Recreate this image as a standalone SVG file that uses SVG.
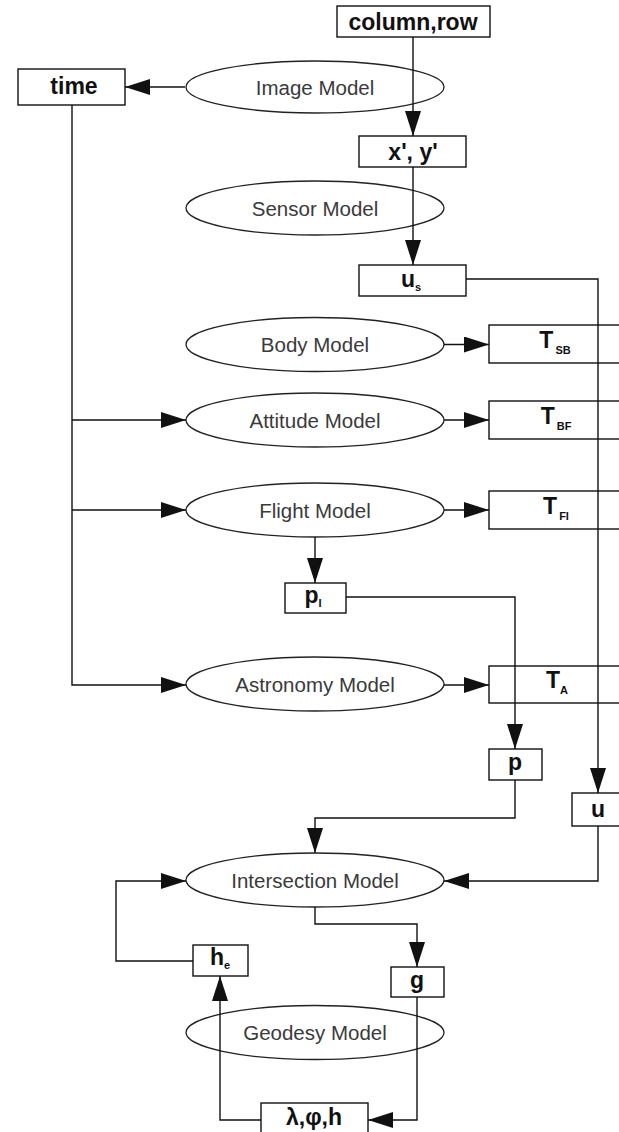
<svg xmlns="http://www.w3.org/2000/svg" width="619" height="1132" viewBox="0 0 619 1132">
<style>
  .box { fill: #ffffff; stroke: #111111; stroke-width: 1.4; }
  .ell { fill: #ffffff; stroke: #222222; stroke-width: 1.3; }
  .blab { font-family: "Liberation Sans", Arial, sans-serif; font-weight: bold; font-size: 23px; fill: #111111; text-anchor: middle; }
  .elab { font-family: "Liberation Sans", Arial, sans-serif; font-size: 20.5px; fill: #3a3a3a; text-anchor: middle; }
  .sub { font-size: 11px; }
  .con { fill: none; stroke: #111111; stroke-width: 1.4; marker-end: url(#arr); }
</style>
<defs>
  <marker id="arr" markerUnits="userSpaceOnUse" markerWidth="26" markerHeight="18" refX="25" refY="8" orient="auto">
    <path d="M0,0 L25,8 L0,16 z" fill="#111111"/>
  </marker>
</defs>
<rect width="619" height="1132" fill="#ffffff"/>

<g id="image-model"><ellipse class="ell" cx="315" cy="87" rx="129" ry="26"/><text class="elab" x="315" y="95">Image Model</text></g>
<g id="sensor-model"><ellipse class="ell" cx="315" cy="208" rx="129" ry="27"/><text class="elab" x="315" y="216">Sensor Model</text></g>
<g id="body-model"><ellipse class="ell" cx="315" cy="344.5" rx="129" ry="27"/><text class="elab" x="315" y="352">Body Model</text></g>
<g id="attitude-model"><ellipse class="ell" cx="315" cy="420" rx="129" ry="27"/><text class="elab" x="315" y="428">Attitude Model</text></g>
<g id="flight-model"><ellipse class="ell" cx="315" cy="510" rx="129" ry="27"/><text class="elab" x="315" y="518">Flight Model</text></g>
<g id="astronomy-model"><ellipse class="ell" cx="315" cy="684" rx="129" ry="27"/><text class="elab" x="315" y="692">Astronomy Model</text></g>
<g id="intersection-model"><ellipse class="ell" cx="315" cy="880" rx="129" ry="27"/><text class="elab" x="315" y="888">Intersection Model</text></g>
<g id="geodesy-model"><ellipse class="ell" cx="315" cy="1032.5" rx="129" ry="27"/><text class="elab" x="315" y="1040">Geodesy Model</text></g>

<g id="column-row"><rect class="box" x="337" y="6" width="153" height="31"/><text class="blab" x="413" y="30">column,row</text></g>
<g id="time"><rect class="box" x="18" y="69" width="107" height="36"/><text class="blab" x="74" y="94">time</text></g>
<g id="xy"><rect class="box" x="359" y="136" width="107" height="31"/><text class="blab" x="413" y="160">x', y'</text></g>
<g id="us"><rect class="box" x="359" y="265" width="107" height="31"/><text class="blab" x="411" y="287">u<tspan class="sub" dy="4">s</tspan></text></g>
<g id="tsb"><rect class="box" x="489" y="325" width="133" height="38"/><text class="blab" x="555" y="348">T<tspan class="sub" dx="2" dy="6">SB</tspan></text></g>
<g id="tbf"><rect class="box" x="489" y="401" width="133" height="38"/><text class="blab" x="556" y="424">T<tspan class="sub" dx="2" dy="6">BF</tspan></text></g>
<g id="tfi"><rect class="box" x="489" y="491" width="133" height="38"/><text class="blab" x="556" y="514">T<tspan class="sub" dx="2" dy="6">FI</tspan></text></g>
<g id="pi"><rect class="box" x="285" y="583" width="61" height="30"/><text class="blab" x="313" y="603">p<tspan class="sub" dy="4">I</tspan></text></g>
<g id="ta"><rect class="box" x="489" y="666" width="133" height="37"/><text class="blab" x="557" y="688">T<tspan class="sub" dy="6">A</tspan></text></g>
<g id="p"><rect class="box" x="489" y="749" width="53" height="31"/><text class="blab" x="515" y="770">p</text></g>
<g id="u"><rect class="box" x="572" y="793" width="52" height="33"/><text class="blab" x="598" y="817">u</text></g>
<g id="he"><rect class="box" x="193" y="945" width="55" height="31"/><text class="blab" x="220" y="965">h<tspan class="sub" dy="4">e</tspan></text></g>
<g id="g"><rect class="box" x="391" y="967" width="53" height="30"/><text class="blab" x="417" y="988">g</text></g>
<g id="lph"><rect class="box" x="261" y="1103" width="107" height="35"/><text class="blab" x="314" y="1125">λ,φ,h</text></g>

<g id="connectors">
  <path class="con" d="M185,87 H125"/>
  <path class="con" d="M413,37 V136"/>
  <path class="con" d="M413,167 V265"/>
  <path class="con" d="M466,279 H598 V793"/>
  <path class="con" d="M444,344.5 H489"/>
  <path class="con" d="M72,105 V685 H186"/>
  <path class="con" d="M72,420 H186"/>
  <path class="con" d="M72,510 H186"/>
  <path class="con" d="M444,420 H489"/>
  <path class="con" d="M444,510 H489"/>
  <path class="con" d="M315,537 V583"/>
  <path class="con" d="M346,597 H515 V749"/>
  <path class="con" d="M444,685 H489"/>
  <path class="con" d="M515,780 V818 H315 V853"/>
  <path class="con" d="M598,826 V881 H444"/>
  <path class="con" d="M193,961 H116 V881 H186"/>
  <path class="con" d="M315,907 V924 H417 V967"/>
  <path class="con" d="M417,997 V1120 H368"/>
  <path class="con" d="M261,1120 H220 V976"/>
</g>
</svg>
